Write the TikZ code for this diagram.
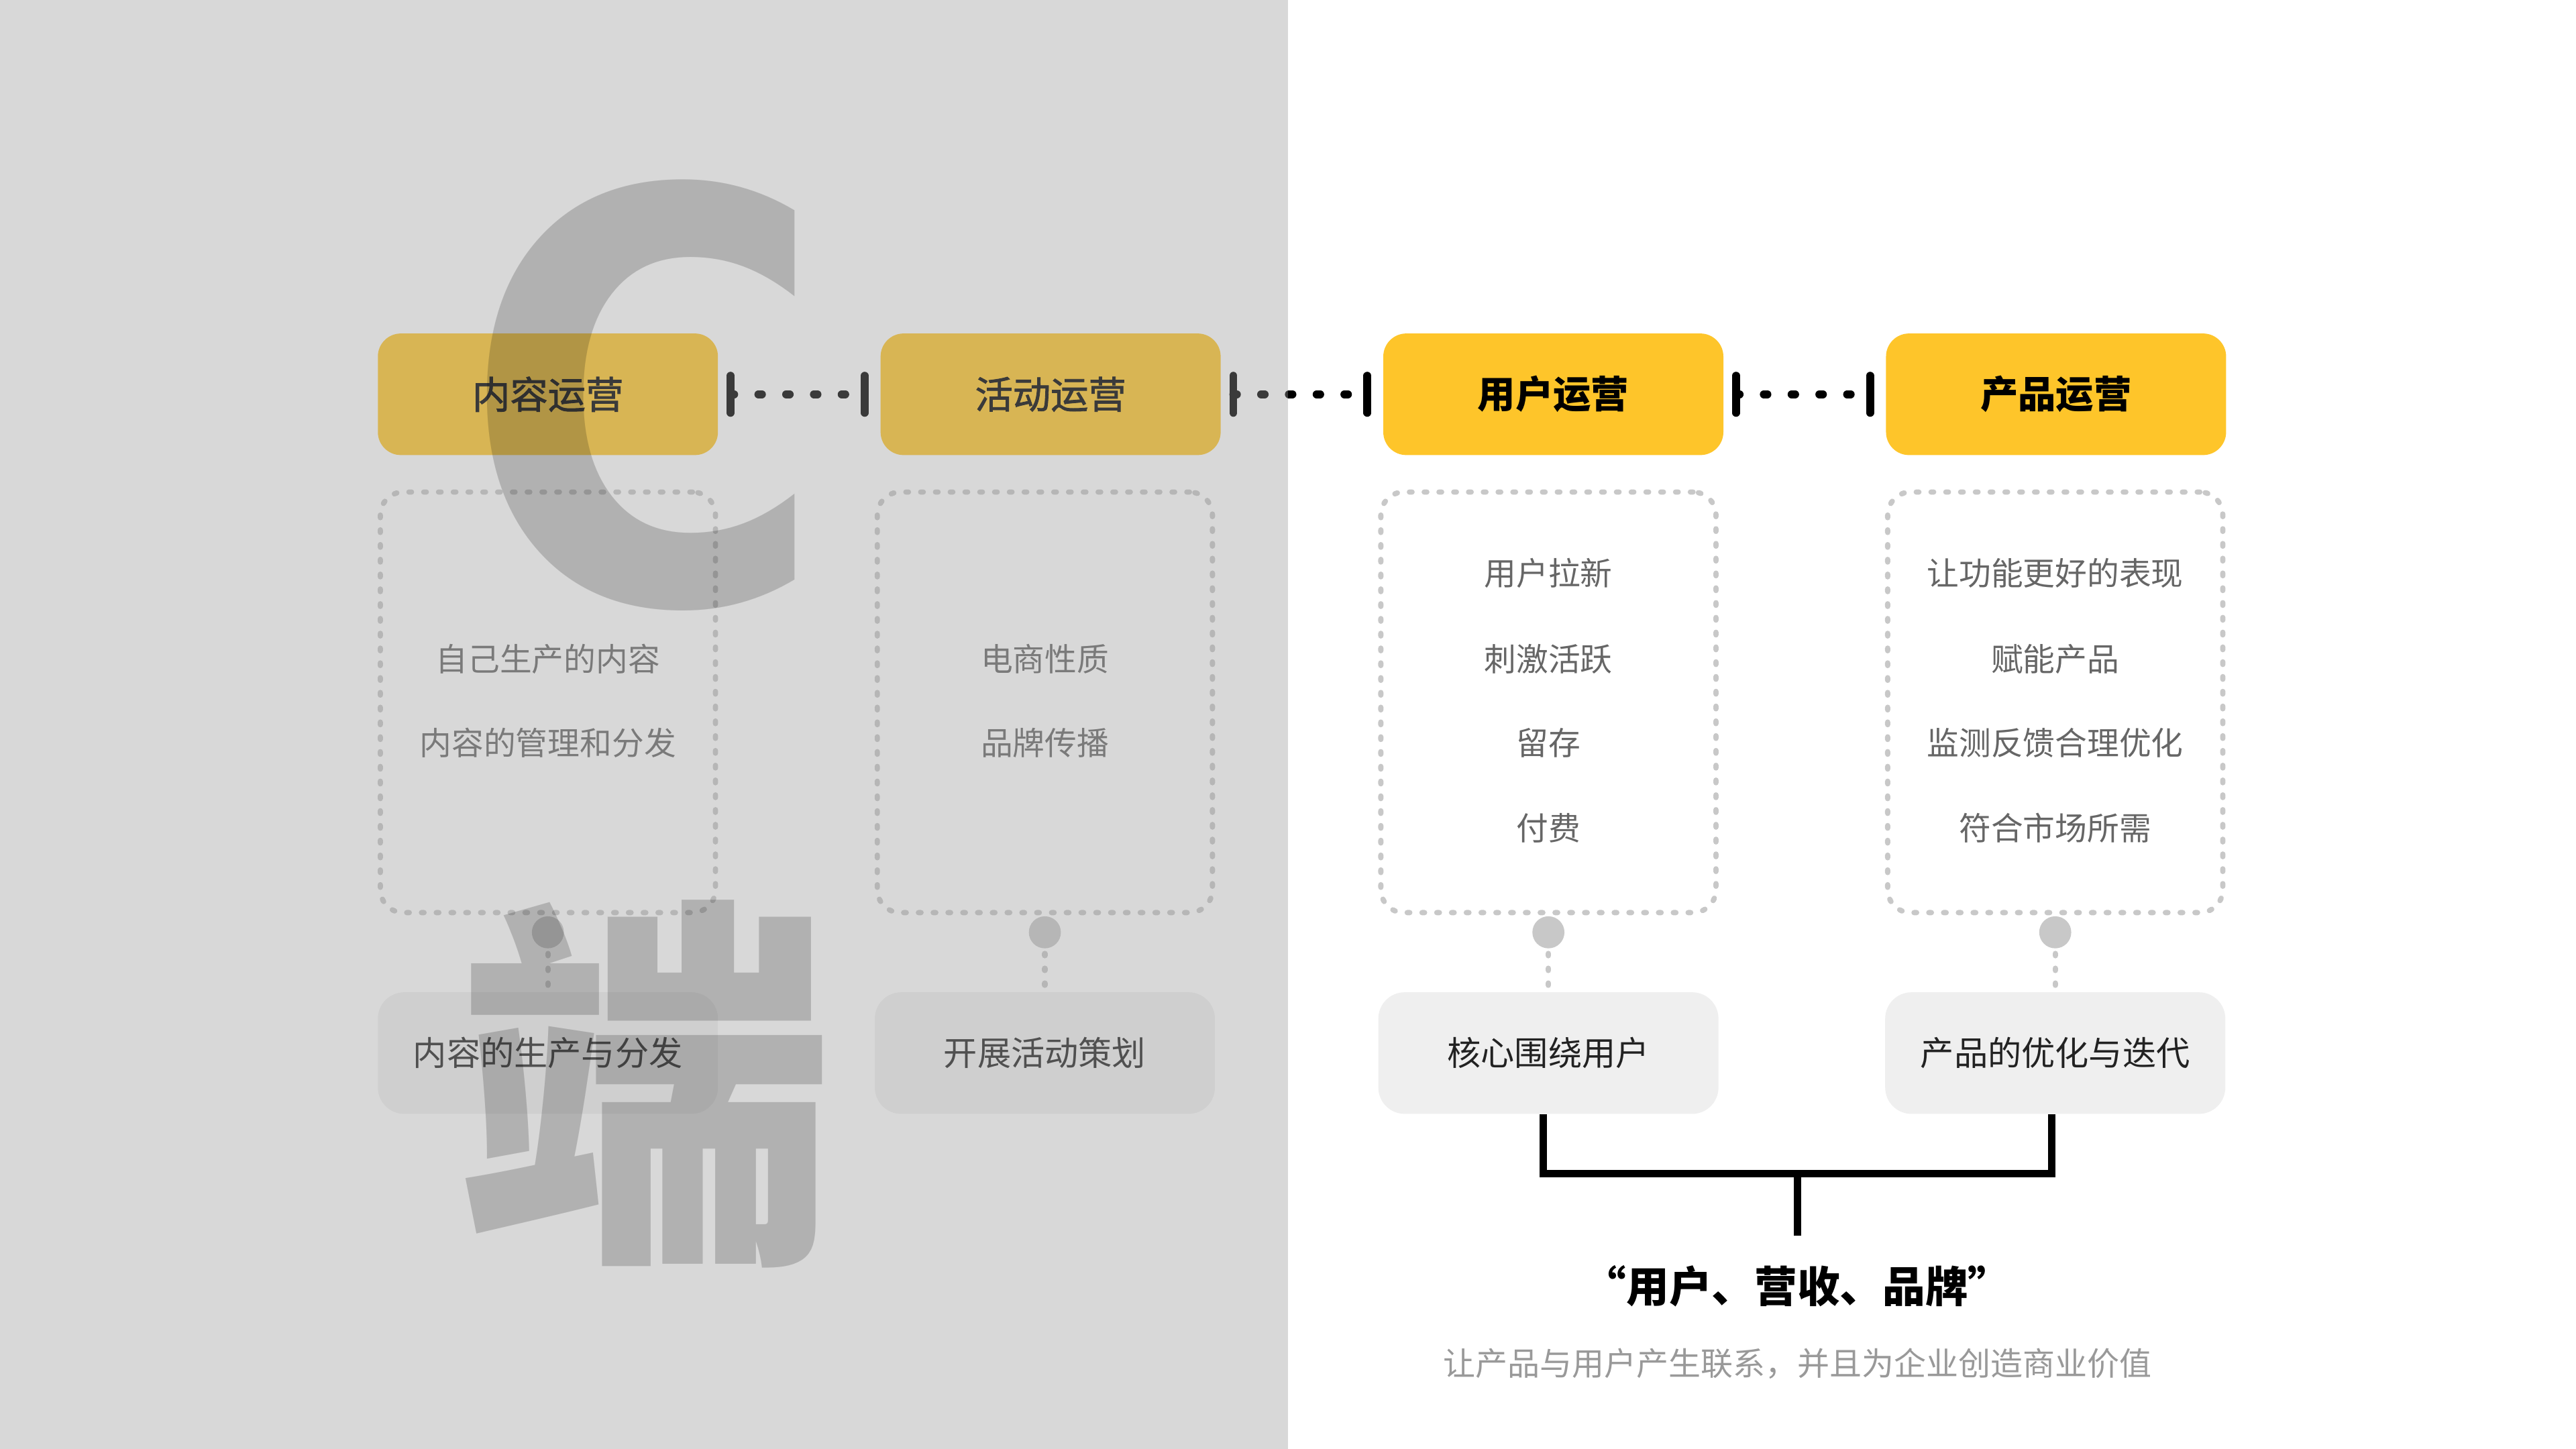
\documentclass[tikz,border=0pt]{standalone}
\usepackage{fontspec}
\setmainfont{Noto Sans CJK SC}
\newfontfamily\cjkmed{Noto Sans CJK SC}[FakeBold=1.5]
\newfontfamily\bigfont{DejaVu Sans}
\usetikzlibrary{calc}
\definecolor{ylw}{HTML}{FEC52A}
\definecolor{dgray}{HTML}{C8C8C8}
\definecolor{lgray}{HTML}{EFEFEF}
\definecolor{txtgray}{HTML}{666666}
\definecolor{txtdark}{HTML}{222222}
\definecolor{subgray}{HTML}{999999}
\definecolor{ovl}{RGB}{155,155,155}
\tikzset{
 topbox/.style={fill=ylw, rounded corners=14pt, minimum width=207pt, minimum height=74pt, inner sep=0pt, text=black, font=\fontsize{23}{23}\selectfont\bfseries},
 topboxL/.style={topbox, font=\fontsize{23}{23}\selectfont\cjkmed},
 dbox/.style={draw=dgray, line width=3.2pt, dash pattern=on 1.6pt off 7.4pt, line cap=round, rounded corners=14pt, minimum width=204pt, minimum height=256pt, inner sep=0pt},
 botbox/.style={fill=lgray, rounded corners=16pt, minimum width=207pt, minimum height=74pt, inner sep=0pt, font=\fontsize{20.5}{20.5}\selectfont, text=txtdark},
 itxt/.style={font=\fontsize{19.5}{19.5}\selectfont, text=txtgray, inner sep=0pt},
 knob/.style={circle, fill=dgray, minimum size=19.5pt, inner sep=0pt},
 bar/.style={line width=4.8pt, line cap=round, draw=black},
 dotline/.style={line width=4.8pt, line cap=round, dash pattern=on 2.2pt off 14.7pt, draw=black},
 vdash/.style={draw=dgray, line width=3.4pt, line cap=round, dash pattern=on 1.2pt off 7.8pt},
 bracket/.style={line width=4.5pt, draw=black},
 bigtxt/.style={text=black, opacity=0.175, inner sep=0pt, anchor=base},
}
\begin{document}
\begin{tikzpicture}[x=1pt, y=-1pt]
\useasboundingbox (0,0) rectangle (1568,882);
\fill[white] (0,0) rectangle (1568,882);
% top boxes
\node[topboxL] (t1) at (333.5,240) {内容运营};
\node[topboxL] (t2) at (639.5,240) {活动运营};
\node[topbox] (t3) at (945.5,240) {用户运营};
\node[topbox] (t4) at (1251.5,240) {产品运营};
% connectors between top boxes
\foreach \l/\r/\n in {t1/t2/1, t2/t3/2, t3/t4/3}{
  \coordinate (p\n) at ($(\l.east)+(7.5,0)$);
  \coordinate (q\n) at ($(\r.west)+(-9.5,0)$);
  \draw[dotline] (p\n) -- (q\n);
  \draw[bar] ($(p\n)+(0,-11.3)$) -- ($(p\n)+(0,11.3)$);
  \draw[bar] ($(q\n)+(0,-11.3)$) -- ($(q\n)+(0,11.3)$);
}
% dashed boxes
\node[dbox] (d1) at (333.5,427.5) {};
\node[dbox] (d2) at (636,427.5) {};
\node[dbox] (d3) at (942.5,427.5) {};
\node[dbox] (d4) at (1251,427.5) {};
% inner texts
\node[itxt] (i11) at (333.5,401) {自己生产的内容};
\node[itxt] (i12) at (333.5,452) {内容的管理和分发};
\node[itxt] (i21) at (636,401) {电商性质};
\node[itxt] (i22) at (636,452) {品牌传播};
\node[itxt] (i31) at (942.5,349) {用户拉新};
\node[itxt] (i32) at (942.5,401) {刺激活跃};
\node[itxt] (i33) at (942.5,452) {留存};
\node[itxt] (i34) at (942.5,504) {付费};
\node[itxt] (i41) at (1251,349) {让功能更好的表现};
\node[itxt] (i42) at (1251,401) {赋能产品};
\node[itxt] (i43) at (1251,452) {监测反馈合理优化};
\node[itxt] (i44) at (1251,504) {符合市场所需};
% knobs and bottom boxes
\node[knob] (k1) at (333.5,567.5) {};
\node[knob] (k2) at (636,567.5) {};
\node[knob] (k3) at (942.5,567.5) {};
\node[knob] (k4) at (1251,567.5) {};
\node[botbox] (b1) at (333.5,641) {内容的生产与分发};
\node[botbox] (b2) at (636,641) {开展活动策划};
\node[botbox] (b3) at (942.5,641) {核心围绕用户};
\node[botbox] (b4) at (1251,641) {产品的优化与迭代};
\foreach \i in {1,...,4}{ \draw[vdash] ($(k\i.south)+(0,3)$) -- (b\i.north); }
% bracket
\coordinate (bl) at ($(b3.south)+(-3,36)$);
\coordinate (br) at ($(b4.south)+(-2,36)$);
\coordinate (mid) at ($(bl)!0.5!(br)$);
\coordinate (stem) at ($(mid)+(0,38)$);
\draw[bracket] ($(b3.south)+(-3,0)$) -- (bl) -- (br) -- ($(b4.south)+(-2,0)$);
\draw[bracket] (mid) -- (stem);
\node[font=\fontsize{26}{26}\selectfont\bfseries, inner sep=0pt] (sum) at (1094,783) {“用户、营收、品牌”};
\node[font=\fontsize{19.6}{19.6}\selectfont, text=subgray, inner sep=0pt] (sub) at (1094,830) {让产品与用户产生联系，并且为企业创造商业价值};
% left overlay
\fill[ovl, fill opacity=0.38] (0,0) rectangle (784,882);
% big letters
\node[bigtxt, font=\fontsize{347}{347}\selectfont\bigfont\bfseries, xscale=0.87] (bigc) at (392.5,366.8) {C};
\node[bigtxt, font=\fontsize{236}{236}\selectfont\bfseries, xscale=0.973] (bigd) at (393.5,748.6) {端};
\end{tikzpicture}
\end{document}
